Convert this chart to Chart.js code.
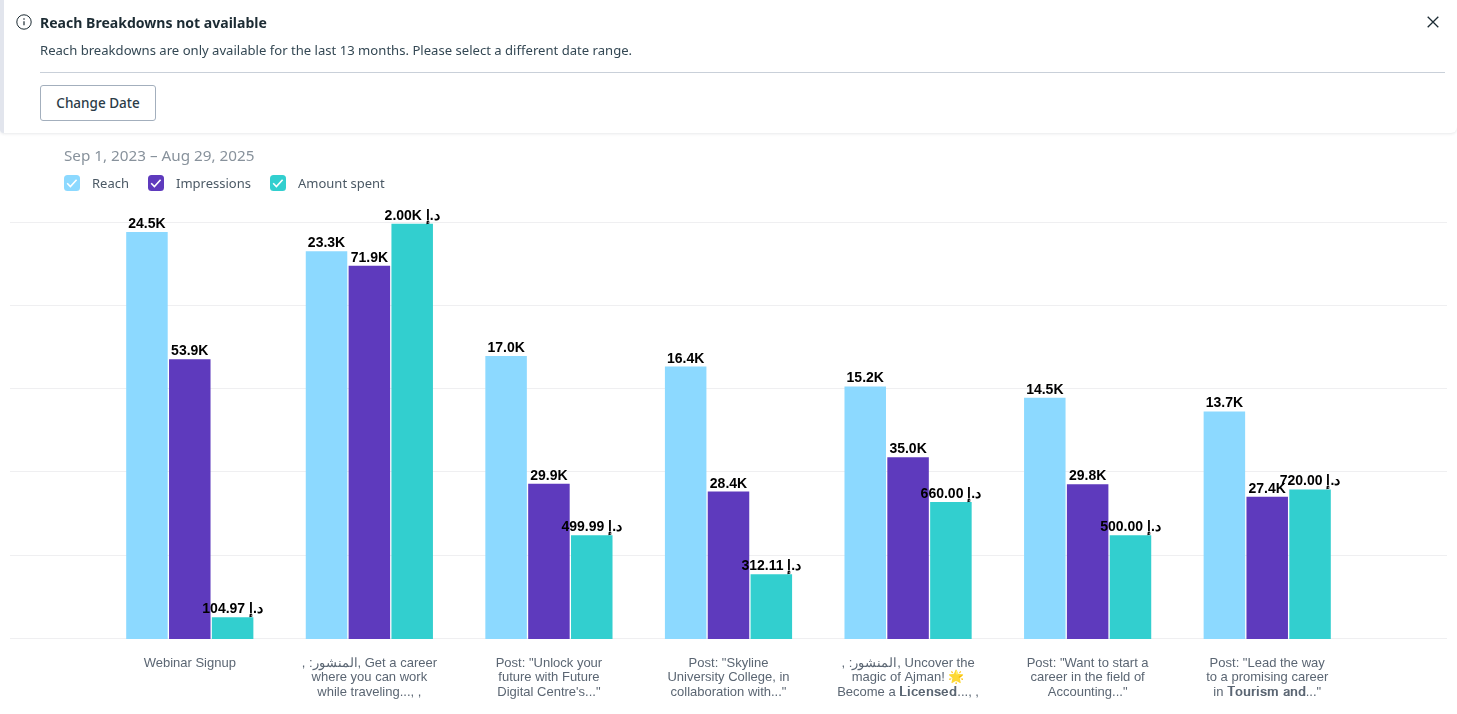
<!DOCTYPE html>
<html lang="en">
<head>
<meta charset="utf-8">
<title>Reach, impressions and amount spent by ad</title>
<script src="https://cdn.jsdelivr.net/npm/chart.js@4/dist/chart.umd.min.js"></script>
<style>
  html, body { margin: 0; padding: 0; background: #fff; width: 1457px; height: 714px; overflow: hidden; }
  body { font-family: "Noto Sans", sans-serif; position: relative; }
  #plot { position: absolute; left: 0; top: 0; }
  .banner { position: absolute; left: 0; top: 0; width: 1457px; height: 133px; background: #fff; box-sizing: border-box;
            border-left: 4px solid #e2e5ed; border-radius: 0 0 6px 4px; box-shadow: 0 1px 3px rgba(30,40,60,.10); }
  .banner svg { position: absolute; }
  .banner h1 { position: absolute; left: 36px; top: 13px; margin: 0; font-size: 14.05px; line-height: 19px; font-weight: 700; color: #1c2b33; }
  .banner p { position: absolute; left: 36px; top: 41px; margin: 0; font-size: 13.1px; line-height: 18px; color: #344854; }
  .banner hr { position: absolute; left: 36px; top: 72px; width: 1405px; margin: 0; border: 0; border-top: 1px solid #c9d0d9; }
  .banner button { position: absolute; left: 36px; top: 85px; width: 116px; height: 36px; box-sizing: border-box; background: #fff;
            border: 1px solid #a3afbd; border-radius: 3px; font: 500 13.5px "Noto Sans", sans-serif; color: #2b3c48; padding: 0; }
  .range { position: absolute; left: 64px; top: 145px; font-size: 15.25px; line-height: 20px; color: #88929c; }
  .key { position: absolute; top: 173px; height: 20px; line-height: 20px; font-size: 13px; color: #4b5965; white-space: nowrap; }
  .key i { position: absolute; left: 0; top: 2px; width: 16px; height: 16px; border-radius: 3.5px; }
  .key i svg { display: block; }
  .key span { position: absolute; left: 28px; top: 0; }
</style>
</head>
<body>
<canvas id="plot" width="1457" height="714"></canvas>

<div class="banner">
  <svg style="left:12px;top:14px" width="16" height="16" viewBox="0 0 16 16" fill="none" stroke="#1c2b33">
    <circle cx="8" cy="8" r="7.2" stroke-width="1"/>
    <path d="M8 7.2v4" stroke-width="1.2"/>
    <circle cx="8" cy="5" r=".8" fill="#1c2b33" stroke="none"/>
  </svg>
  <h1>Reach Breakdowns not available</h1>
  <p>Reach breakdowns are only available for the last 13 months. Please select a different date range.</p>
  <hr>
  <button type="button">Change Date</button>
  <svg style="left:1423px;top:16px" width="12" height="12" viewBox="0 0 12 12" fill="none" stroke="#1c2b33" stroke-width="1.3">
    <path d="M.7.7l10.6 10.6M11.3.7L.7 11.3"/>
  </svg>
</div>

<div class="range" id="range"></div>
<div id="keys"></div>

<script>
// Reporting window shown above the chart
const dateRange = "Sep 1, 2023 \u2013 Aug 29, 2025";

// One multi-line label per ad
const categories = [
  ["Webinar Signup"],
  [", :\u0627\u0644\u0645\u0646\u0634\u0648\u0631, Get a career", "where you can work", "while traveling..., ,"],
  ["Post: \"Unlock your", "future with Future", "Digital Centre's...\""],
  ["Post: \"Skyline", "University College, in", "collaboration with...\""],
  [", :\u0627\u0644\u0645\u0646\u0634\u0648\u0631, Uncover the", "magic of Ajman! \uD83C\uDF1F", "Become a \uD835\uDC0B\uD835\uDC22\uD835\uDC1C\uD835\uDC1E\uD835\uDC27\uD835\uDC2C\uD835\uDC1E\uD835\uDC1D..., ,"],
  ["Post: \"Want to start a", "career in the field of", "Accounting...\""],
  ["Post: \"Lead the way", "to a promising career", "in \uD835\uDC13\uD835\uDC28\uD835\uDC2E\uD835\uDC2B\uD835\uDC22\uD835\uDC2C\uD835\uDC26 \uD835\uDC1A\uD835\uDC27\uD835\uDC1D...\""]
];

// Series values
const reachValues = [24500, 23340, 17040, 16400, 15200, 14520, 13700];
const impressionValues = [53900, 71900, 29900, 28400, 35000, 29800, 27400];
const amountValues = [104.97, 2000, 499.99, 312.11, 660, 500, 720];

// Legend text and colours
const seriesNames = ["Reach", "Impressions", "Amount spent"];
const seriesColors = ["#8cd9ff", "#5e3abd", "#32cfcf"];
const keyLefts = [64, 148, 270];

// Each series has its own hidden axis; these are their upper bounds
const reachMax = 25100;
const impressionMax = 80330;
const amountMax = 2008;

const CURRENCY = "\u062F.\u0625";

function compact(v) {
  return (v / 1000).toFixed(1) + "K";
}
function money(v) {
  return (v >= 1000 ? (v / 1000).toFixed(2) + "K" : v.toFixed(2)) + " " + CURRENCY;
}

document.getElementById("range").textContent = dateRange;
document.getElementById("keys").innerHTML = seriesNames.map((name, i) =>
  '<div class="key" style="left:' + keyLefts[i] + 'px"><i style="background:' + seriesColors[i] + '">' +
  '<svg width="16" height="16" viewBox="0 0 16 16" fill="none" stroke="#fff" stroke-width="1.6"><path d="M3.2 8.3l3.2 3.2 6.2-6.8"/></svg>' +
  '</i><span>' + name + '</span></div>').join("");

// Prints each bar's formatted value just above its top edge
const valueLabels = {
  id: "valueLabels",
  afterDatasetsDraw(chart) {
    const ctx = chart.ctx;
    ctx.save();
    ctx.font = 'bold 14px "Liberation Sans", Arial, sans-serif';
    ctx.fillStyle = "#000";
    ctx.textAlign = "center";
    ctx.textBaseline = "alphabetic";
    chart.data.datasets.forEach((ds, d) => {
      chart.getDatasetMeta(d).data.forEach((bar, i) => {
        ctx.fillText(ds.format(ds.data[i]), bar.x, bar.y - 4);
      });
    });
    ctx.restore();
  }
};

const hairline = "#efeff1";
const gridAxis = (position) => ({
  type: "linear",
  position,
  min: -0.008,
  max: 5,
  afterBuildTicks(axis) { axis.ticks = [0, 1, 2, 3, 4, 5].map((value) => ({ value })); },
  afterFit(axis) { axis.width = 90; },
  ticks: { display: false },
  border: { display: false },
  grid: { color: hairline, tickColor: hairline, lineWidth: 1, tickLength: 90, drawTicks: true }
});
const hiddenAxis = (max) => ({ type: "linear", display: false, min: 0, max });

new Chart(document.getElementById("plot"), {
  type: "bar",
  data: {
    labels: categories,
    datasets: [
      { label: seriesNames[0], data: reachValues, backgroundColor: seriesColors[0], yAxisID: "yReach", format: compact },
      { label: seriesNames[1], data: impressionValues, backgroundColor: seriesColors[1], yAxisID: "yImpressions", format: compact },
      { label: seriesNames[2], data: amountValues, backgroundColor: seriesColors[2], yAxisID: "yAmount", format: money }
    ]
  },
  options: {
    responsive: false,
    animation: false,
    devicePixelRatio: 1,
    categoryPercentage: 0.7156,
    barPercentage: 0.969,
    layout: { padding: { top: 222, left: 10, right: 10, bottom: 0 } },
    plugins: { legend: { display: false }, tooltip: { enabled: false }, title: { display: false } },
    scales: {
      x: {
        type: "category",
        grid: { display: false },
        border: { display: false },
        afterFit(axis) { axis.height = 75; },
        ticks: {
          autoSkip: false,
          maxRotation: 0,
          minRotation: 0,
          padding: 9,
          color: "#5b6673",
          font: { family: '"Liberation Sans", "DejaVu Serif", Arial, sans-serif', size: 13, lineHeight: 1.115 }
        }
      },
      yGrid: gridAxis("left"),
      yGridRight: gridAxis("right"),
      yReach: hiddenAxis(reachMax),
      yImpressions: hiddenAxis(impressionMax),
      yAmount: hiddenAxis(amountMax)
    }
  },
  plugins: [valueLabels]
});
</script>
</body>
</html>
